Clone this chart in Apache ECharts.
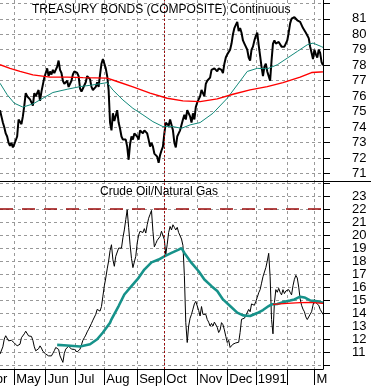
<!DOCTYPE html>
<html><head><meta charset="utf-8">
<script src="https://cdn.jsdelivr.net/npm/echarts@6/dist/echarts.min.js"></script>
<style>html,body{margin:0;padding:0;background:#fff}#c{width:371px;height:386px}</style>
</head><body><div id="c"></div><script>
// ---- data ----
const monthNames = ['Apr','May','Jun','Jul','Aug','Sep','Oct','Nov','Dec','Jan','Feb','Mar'];
const monthLabels = ['Apr','May','Jun','Jul','Aug','Sep','Oct','Nov','Dec','1991','','M'];
const monthTradingDays = [10,22,21,20,23,19,23,21,20,22,19,7];

const bondTicks = [71,72,73,74,75,76,77,78,79,80,81,82];
const bondLabels = [71,72,73,74,75,76,77,78,79,80,81];
const ratioTicks = [10,11,12,13,14,15,16,17,18,19,20,21,22,23,24];
const ratioLabels = [11,12,13,14,15,16,17,18,19,20,21,22,23];
const ratioLevel = 22;

const bonds = [75.1,74.7,74.3,74.0,73.6,73.4,73.0,72.8,73.0,72.7,
72.9,73.0,73.4,74.5,74.4,74.2,74.7,75.4,76.2,76.0,
75.9,75.8,75.6,75.4,76.2,76.0,76.1,76.4,75.7,76.3,
76.4,77.2,77.5,77.8,77.3,77.6,77.4,77.7,77.5,77.7,
77.9,78.3,77.7,77.5,77.0,76.8,76.9,77.0,76.6,76.7,
77.0,77.4,77.6,77.6,77.5,77.3,76.5,76.3,76.5,76.4,
76.9,77.3,77.4,77.1,76.6,76.4,76.3,76.6,76.9,76.6,
77.4,78.1,78.4,78.3,77.8,77.3,76.4,74.3,73.8,74.9,
74.4,74.3,75.1,74.3,73.9,73.4,73.2,73.3,73.2,72.75,
71.9,72.9,73.4,73.2,73.6,73.5,73.4,73.2,73.8,73.9,
73.6,73.8,73.7,73.6,73.2,72.75,73.0,72.75,72.3,72.2,
72.1,71.7,72.2,72.5,72.75,73.6,74.3,74.2,74.1,74.5,
74.4,73.8,73.0,72.7,73.4,73.6,73.8,73.9,74.5,74.8,
74.5,75.1,74.9,74.7,74.3,74.9,74.5,75.3,75.6,75.8,
76.0,76.4,76.2,76.0,76.8,77.0,77.1,77.2,77.7,77.6,
77.8,77.7,77.6,77.8,77.9,77.7,77.5,78.1,78.5,78.7,
78.8,79.0,79.4,80.0,80.4,80.6,80.8,80.2,80.4,80.1,
79.6,79.4,79.2,79.0,78.5,78.3,79.0,79.2,79.6,79.9,
80.1,79.3,78.6,77.9,77.3,77.9,78.1,77.6,77.3,77.0,
78.3,79.4,79.6,79.4,79.3,79.5,79.6,79.2,79.3,79.2,
79.3,79.6,80.1,80.7,81.0,80.9,81.1,81.0,80.9,81.0,
80.8,80.7,80.4,80.3,80.1,80.0,79.75,79.2,78.8,78.4,
79.0,78.7,78.5,79.0,78.8,78.2,78.0];

// moving averages read at sample days: [dayIndex, value]
const bondsMaShort = [[0,76.84],[5,76.1],[10,75.55],[16,75.3],[23,75.5],[30,75.87],[37,76.24],[47,76.45],[56,76.62],[65,76.73],[75,76.88],[79,76.4],[86,75.76],[93,75.22],[100,74.8],[107,74.36],[114,74.04],[121,74.04],[127,73.93],[133,74.15],[140,74.3],[149,74.9],[159,75.87],[166,76.73],[173,77.6],[180,77.8],[187,77.77],[194,78.03],[201,78.46],[208,78.89],[215,79.32],[219,79.43],[225,79.2],[226,79.15]];
const bondsMaLong = [[0,78.03],[7,77.8],[14,77.6],[23,77.38],[35,77.23],[47,77.23],[58,77.2],[75,77.17],[82,76.95],[93,76.6],[105,76.2],[117,75.87],[128,75.7],[140,75.65],[152,75.83],[163,76.13],[175,76.41],[187,76.62],[198,76.88],[210,77.23],[218,77.53],[224,77.56],[226,77.57]];

const ratio = [10.84,10.97,11.4,12.0,12.25,12.2,11.86,11.98,11.9,11.98,
11.7,11.55,11.47,11.5,11.6,12.1,12.15,12.4,12.6,12.7,
12.24,12.3,12.2,11.9,11.4,11.09,11.2,11.25,11.47,11.3,
11.05,10.9,10.84,10.95,10.7,10.84,10.7,10.9,11.1,11.35,
11.47,11.2,10.7,10.6,10.2,10.9,11.22,11.3,11.45,11.3,
11.22,11.3,11.2,11.1,11.0,11.05,11.22,11.55,11.9,12.1,
12.3,12.55,12.75,12.9,13.2,13.45,13.6,13.9,14.28,14.2,
14.15,14.5,15.3,16.1,16.7,17.4,18.0,18.8,19.26,18.1,
17.6,18.37,18.3,19.0,19.1,19.0,19.8,20.4,21.2,21.95,
20.6,19.3,18.2,17.5,17.35,18.37,19.4,20.0,20.3,20.4,
20.2,20.5,20.16,20.8,21.3,21.6,21.9,20.3,19.1,19.35,
19.6,19.7,19.9,20.3,20.4,19.65,18.5,19.3,20.2,20.67,
20.4,20.8,20.6,20.4,20.6,20.2,20.2,19.7,19.2,16.9,
13.26,11.73,13.0,13.6,13.9,14.3,14.7,14.9,15.05,14.2,
13.77,14.5,13.9,13.8,13.9,13.5,13.3,13.0,13.2,13.0,
13.3,13.2,12.9,12.5,12.7,13.26,13.1,12.7,12.2,11.73,
11.9,11.35,11.45,11.6,11.65,11.7,11.8,11.75,12.5,13.52,
13.4,13.6,13.8,13.7,14.28,14.1,14.7,14.8,14.6,14.9,
15.2,15.56,15.8,16.3,16.8,16.8,17.5,18.0,18.6,16.8,
13.5,12.4,14.8,15.8,15.6,15.9,15.6,15.4,15.8,15.5,
15.7,15.56,15.8,15.6,15.4,16.1,16.6,16.9,16.7,16.0,
15.1,14.6,14.3,14.1,13.7,13.5,13.5,13.9,14.1,14.6,
15.05,14.8,14.9,14.6,14.28,14.2,13.9];

const ratioMaShort = [[40,11.55],[47,11.5],[56,11.42],[63,11.6],[68,11.98],[72,12.5],[77,13.26],[78,13.52],[83,14.54],[87,15.43],[92,16.07],[97,16.71],[101,17.35],[106,17.9],[111,18.12],[115,18.37],[120,18.63],[125,18.88],[127,19.0],[129,18.63],[134,17.86],[139,17.22],[143,16.58],[148,16.07],[152,15.69],[156,15.05],[161,14.54],[166,14.03],[170,13.82],[175,13.77],[180,14.0],[184,14.23],[188,14.54],[190,14.67],[194,14.7],[198,14.84],[203,14.97],[206,15.05],[210,15.26],[213,15.2],[217,14.97],[222,14.9],[226,14.8]];
const ratioMaLong = [[191,14.67],[201,14.75],[210,14.8],[217,14.82],[226,14.75]];

// ---- build ----
const categories = [];
const monthStart = {};
monthNames.forEach((m, mi) => {
  for (let d = 0; d < monthTradingDays[mi]; d++) {
    if (d === 0 && mi > 0) monthStart[categories.length] = monthLabels[mi];
    categories.push(m + ' ' + (d + 1));
  }
});
const N = categories.length;
const octIdx = categories.indexOf('Oct 1');
function fill(pairs) { const a = new Array(N).fill(null); pairs.forEach(([i, v]) => { a[i] = v; }); return a; }
const isStart = (idx) => Object.prototype.hasOwnProperty.call(monthStart, idx);

const FONT = 'Liberation Sans, Arial, sans-serif';
const gridLine = { color: '#999999', type: [3, 3], width: 1 };
const dotted = { color: '#9b0a0a', type: [2, 2], width: 1 };

const chart = echarts.init(document.getElementById('c'), null, { renderer: 'canvas' });
chart.setOption({
  animation: false,
  backgroundColor: '#fff',
  title: [
    { text: 'TREASURY BONDS (COMPOSITE) Continuous', left: 32, top: 4, padding: 0,
      textStyle: { fontFamily: FONT, fontSize: 12, fontWeight: 'normal', color: '#000' } },
    { text: 'Crude Oil/Natural Gas', left: 100, top: 186, padding: 0,
      textStyle: { fontFamily: FONT, fontSize: 12, fontWeight: 'normal', color: '#000' } }
  ],
  grid: [
    { left: 0, top: 0, width: 323, height: 181 },
    { left: 0, top: 181, width: 323, height: 189 }
  ],
  xAxis: [
    { gridIndex: 0, type: 'category', data: categories, boundaryGap: false,
      axisLine: { show: false }, axisTick: { show: false }, axisLabel: { show: false },
      splitLine: { show: true, interval: (i) => isStart(i), lineStyle: gridLine } },
    { gridIndex: 1, type: 'category', data: categories, boundaryGap: false,
      axisLine: { show: true, onZero: false, lineStyle: { color: '#000', width: 1 } },
      axisTick: { show: true, interval: (i) => isStart(i), length: 16, lineStyle: { color: '#000' } },
      axisLabel: { interval: (i) => isStart(i), formatter: (v, i) => monthStart[i] || '',
        align: 'left', margin: 4, padding: [0, 0, 0, 2], color: '#000', fontFamily: FONT, fontSize: 13 },
      splitLine: { show: true, interval: (i) => isStart(i), lineStyle: gridLine } }
  ],
  yAxis: [
    { gridIndex: 0, type: 'value', position: 'right', min: 70.53, max: 82.21,
      axisLine: { show: true, onZero: false, lineStyle: { color: '#000' } },
      axisTick: { show: true, length: 7, customValues: bondTicks, lineStyle: { color: '#000' } },
      axisLabel: { customValues: bondLabels, margin: 29, padding: [3, 0, 0, 0], color: '#000', fontFamily: FONT, fontSize: 13 },
      splitLine: { show: true, lineStyle: gridLine } },
    { gridIndex: 1, type: 'value', position: 'right', min: 9.69, max: 24.17,
      axisLine: { show: true, onZero: false, lineStyle: { color: '#000' } },
      axisTick: { show: true, length: 7, customValues: ratioTicks, lineStyle: { color: '#000' } },
      axisLabel: { customValues: ratioLabels, margin: 29, padding: [3, 0, 0, 0], color: '#000', fontFamily: FONT, fontSize: 13 },
      splitLine: { show: true, lineStyle: gridLine } }
  ],
  series: [
    { type: 'line', xAxisIndex: 0, yAxisIndex: 0, data: bonds, symbol: 'none',
      lineStyle: { color: '#000', width: 2 },
      markLine: { silent: true, symbol: ['none', 'none'], label: { show: false },
        data: [{ xAxis: categories[octIdx], lineStyle: dotted }] } },
    { type: 'line', xAxisIndex: 0, yAxisIndex: 0, data: fill(bondsMaShort), connectNulls: true, symbol: 'none',
      lineStyle: { color: '#12897a', width: 1 } },
    { type: 'line', xAxisIndex: 0, yAxisIndex: 0, data: fill(bondsMaLong), connectNulls: true, symbol: 'none',
      lineStyle: { color: '#ff0000', width: 1.4 } },
    { type: 'line', xAxisIndex: 1, yAxisIndex: 1, data: ratio, symbol: 'none',
      lineStyle: { color: '#000', width: 1 },
      markLine: { silent: true, symbol: ['none', 'none'], label: { show: false },
        data: [
          { yAxis: ratioLevel, lineStyle: { color: '#9b0a0a', type: [13, 9], width: 1.5 } },
          { xAxis: categories[octIdx], lineStyle: dotted }
        ] } },
    { type: 'line', xAxisIndex: 1, yAxisIndex: 1, data: fill(ratioMaShort), connectNulls: true, symbol: 'none',
      lineStyle: { color: '#16928a', width: 2.6 } },
    { type: 'line', xAxisIndex: 1, yAxisIndex: 1, data: fill(ratioMaLong), connectNulls: true, symbol: 'none',
      lineStyle: { color: '#ff0000', width: 1.3 } }
  ],
  graphic: [
    { type: 'line', shape: { x1: 0, y1: 181.5, x2: 371, y2: 181.5 }, style: { stroke: '#000', lineWidth: 1 }, z: 10 },
    { type: 'text', left: -13, top: 373, style: { text: monthLabels[0], font: '13px ' + FONT, fill: '#000' } }
  ]
});
</script></body></html>
